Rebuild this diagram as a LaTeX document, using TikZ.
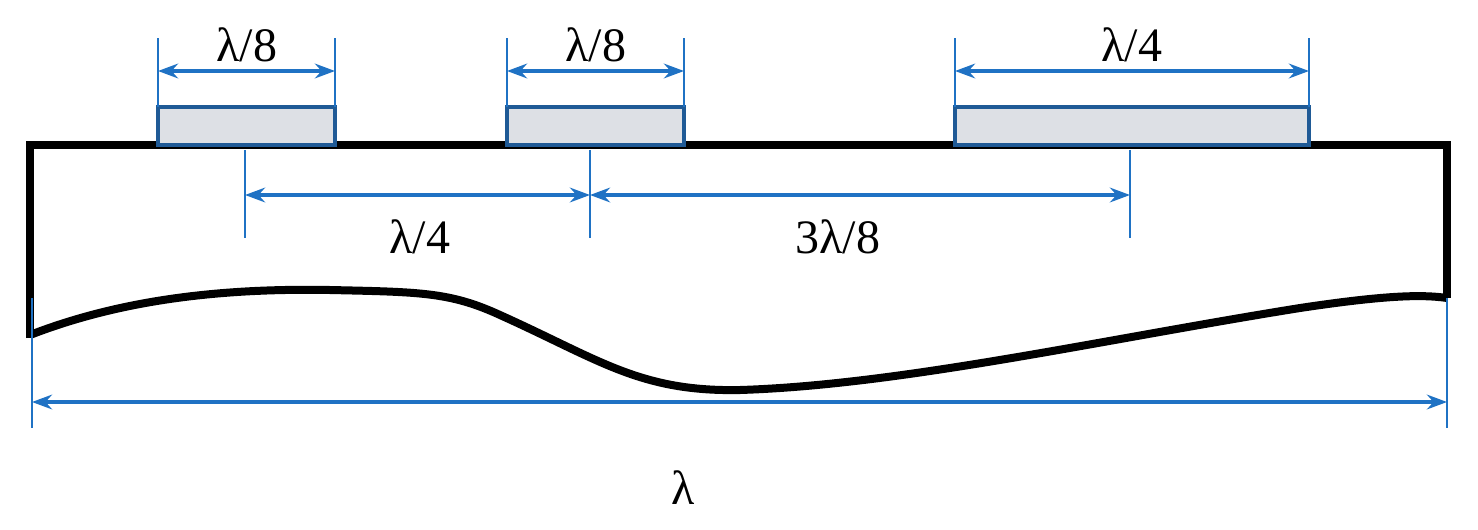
\documentclass[tikz,border=0pt]{standalone}
\usepackage{fontspec}
\setmainfont{Liberation Serif}
\usetikzlibrary{arrows.meta}
\definecolor{dimblue}{HTML}{1F72C4}
\definecolor{padfill}{HTML}{DDE0E5}
\definecolor{padedge}{HTML}{1F5A96}
\tikzset{
  dimline/.style={dimblue, line width=1.3pt},
  dimarrow/.style={dimblue, line width=2.4pt, {Stealth[length=15pt,width=11pt]}-{Stealth[length=15pt,width=11pt]}},
  pad/.style={fill=padfill, draw=padedge, line width=2.4pt},
  body/.style={black, line width=6pt},
  lab/.style={font=\fontsize{36}{42}\selectfont, inner sep=0pt}
}
\begin{document}
\begin{tikzpicture}[x=0.75pt,y=-0.75pt]
\useasboundingbox (0,0) rectangle (1478,529);
% body
\draw[body, line join=miter] (30,338) -- (30,145) -- (1447,145) -- (1447,298);
\draw[body] (30,335) .. controls (120,300) and (220,288) .. (330,290)
  .. controls (420,292) and (450,292) .. (500,315)
  .. controls (600,360) and (640,392) .. (740,390)
  .. controls (900,385) and (1100,340) .. (1300,308)
  .. controls (1380,296) and (1420,294) .. (1447,298);
% pads
\draw[pad] (158,107) rectangle (335,145);
\draw[pad] (507,107) rectangle (684,145);
\draw[pad] (955,107) rectangle (1309,145);
% extension lines
\foreach \x in {158,335,507,684,955,1309} \draw[dimline] (\x,38) -- (\x,107);
\foreach \x in {245,590,1130} \draw[dimline] (\x,150) -- (\x,238);
\foreach \x in {32,1447} \draw[dimline] (\x,298) -- (\x,428);
% coordinates
\coordinate (a1) at (158,71); \coordinate (a2) at (335,71);
\coordinate (b1) at (507,71); \coordinate (b2) at (684,71);
\coordinate (c1) at (955,71); \coordinate (c2) at (1309,71);
\coordinate (d1) at (245,195); \coordinate (d2) at (590,195);
\coordinate (e1) at (590,195); \coordinate (e2) at (1130,195);
\coordinate (f1) at (32,402); \coordinate (f2) at (1447,402);
\draw[dimarrow] (a1) -- (a2);
\draw[dimarrow] (b1) -- (b2);
\draw[dimarrow] (c1) -- (c2);
\draw[dimarrow] (d1) -- (d2);
\draw[dimarrow] (e1) -- (e2);
\draw[dimarrow] (f1) -- (f2);
% labels
\node[lab] (l1) at (247,45) {λ/8};
\node[lab] (l2) at (596,45) {λ/8};
\node[lab] (l3) at (1132,45) {λ/4};
\node[lab] (l4) at (420,237) {λ/4};
\node[lab] (l5) at (838,237) {3λ/8};
\node[lab] (l6) at (683,488) {λ};
\end{tikzpicture}
\end{document}
